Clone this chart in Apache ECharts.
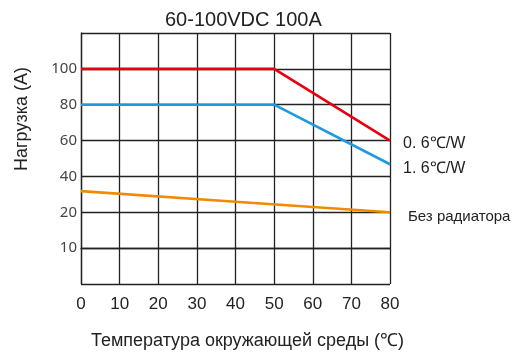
<!DOCTYPE html>
<html><head><meta charset="utf-8">
<script src="https://cdn.jsdelivr.net/npm/echarts@6/dist/echarts.min.js"></script>
<style>html,body{margin:0;padding:0;background:#fff}#c{width:513px;height:355px}</style>
</head><body><div id="c"></div>
<script>
const title = '60-100VDC 100A';
const xName = 'Температура окружающей среды (℃)';
const yName = 'Нагрузка (A)';
const seriesNames = ['0. 6℃/W', '1. 6℃/W', 'Без радиатора'];
const redPts = [[0, 100], [50, 100], [80, 60]];
const bluePts = [[0, 80], [50, 80], [80, 46.8]];
const orangePts = [[0, 31.8], [40, 25.9], [80, 20]];
const xTicks = [0, 10, 20, 30, 40, 50, 60, 70, 80];
// y tick labels as printed in the reference (the lowest labelled line reads "10")
const yTickLabels = {'100': '100', '80': '80', '60': '60', '40': '40', '20': '20', '0': '10'};

const chart = echarts.init(document.getElementById('c'));
const lineFont = 'Liberation Sans';
function mk(name, data, color, off, fs) {
  return {
    name, type: 'line', data, symbol: 'none', smooth: false,
    lineStyle: {color, width: 2.6}, itemStyle: {color},
    endLabel: {show: true, formatter: name, color: '#222', fontSize: fs,
      fontFamily: lineFont, offset: off}
  };
}
chart.setOption({
  animation: false,
  title: {text: title, left: 160, top: 5,
    textStyle: {fontSize: 20, fontWeight: 'normal', color: '#222', fontFamily: 'Liberation Sans'}},
  grid: {left: 81, right: 123, top: 33, bottom: 71},
  xAxis: {type: 'value', min: 0, max: 80, interval: 10,
    axisLine: {show: true, lineStyle: {color: '#222', width: 1.3}},
    axisTick: {show: false},
    splitLine: {show: true, lineStyle: {color: '#222', width: 1.3}},
    axisLabel: {color: '#222', fontSize: 17, margin: 12, fontFamily: 'Liberation Sans',
      formatter: v => xTicks.includes(v) ? String(v) : ''},
    name: xName, nameLocation: 'middle', nameGap: 48,
    nameTextStyle: {color: '#222', fontSize: 18, fontFamily: 'Liberation Sans', padding: [0, 0, 0, 24]}
  },
  yAxis: {type: 'value', min: -20, max: 120, interval: 20,
    axisLine: {show: true, lineStyle: {color: '#222', width: 1.3}},
    axisTick: {show: false},
    splitLine: {show: true, lineStyle: {color: '#222', width: 1.3}},
    axisLabel: {color: '#444', fontSize: 15, margin: 4, fontFamily: 'Noto Sans',
      formatter: v => yTickLabels[String(v)] || ''}
  },
  graphic: [{type: 'text', x: 22, y: 119, rotation: Math.PI / 2,
    style: {text: yName, fill: '#222', fontSize: 18, fontFamily: 'Liberation Sans',
      align: 'center', verticalAlign: 'middle'}}],
  series: [
    mk(seriesNames[0], redPts, '#e60012', [5, 3], 16),
    mk(seriesNames[1], bluePts, '#1f9ae0', [5, 4], 16),
    mk(seriesNames[2], orangePts, '#f08a00', [10, 5], 15)
  ]
});
</script></body></html>
